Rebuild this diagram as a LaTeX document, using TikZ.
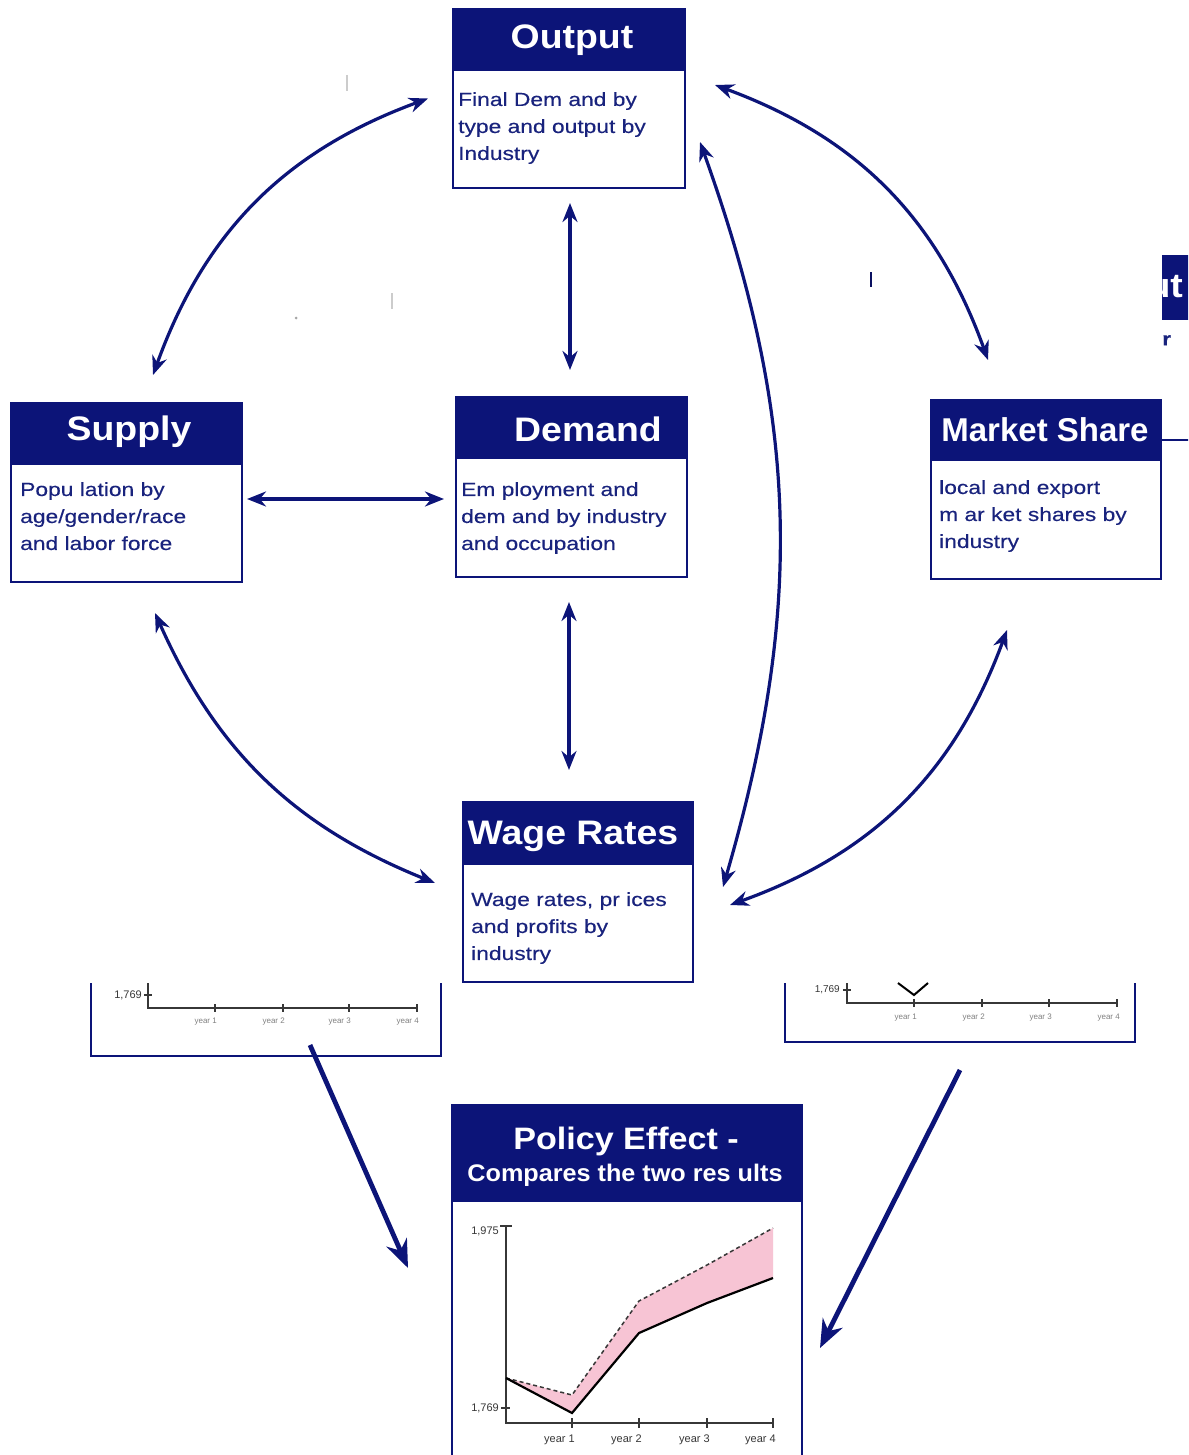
\documentclass[tikz,border=0pt]{standalone}
\usepackage{fontspec}
\setmainfont{Liberation Sans}
\newfontfamily\bodyf[FakeStretch=1.2, FakeBold=0.3]{Liberation Sans}
\newfontfamily\titlef[FakeStretch=1.1]{Liberation Sans}
\newfontfamily\subtitlef[FakeStretch=1.05]{Liberation Sans}
\usetikzlibrary{arrows.meta,calc}
\definecolor{navy}{RGB}{12,20,120}
\definecolor{txtnavy}{RGB}{25,35,125}
\definecolor{pinkfill}{RGB}{247,196,212}
\definecolor{axisgray}{RGB}{55,55,55}
\begin{document}
\begin{tikzpicture}[x=1pt,y=-1pt,
  box/.style={draw=navy, line width=2.2pt, fill=white, inner sep=0pt, outer sep=0pt, anchor=north west},
  hdr/.style={fill=navy, inner sep=0pt, outer sep=0pt, anchor=north west},
  ttl/.style={text=white, font=\titlef\fontsize{34}{40}\selectfont\bfseries, inner sep=0pt},
  body/.style={text=txtnavy, font=\bodyf\fontsize{19}{27}\selectfont, inner sep=0pt, anchor=north west, align=left},
  link/.style={draw=navy, line width=3.2pt, {Stealth[length=19pt,width=15pt]}-{Stealth[length=19pt,width=15pt]}},
  feed/.style={draw=navy, line width=4.8pt, -{Stealth[length=28pt,width=22pt]}},
  ax/.style={draw=axisgray, line width=1.4pt},
  lbl/.style={text=axisgray, font=\fontsize{11}{12}\selectfont, inner sep=0pt},
  faintlbl/.style={text=gray, font=\fontsize{8}{9}\selectfont, inner sep=0pt},
  frame/.style={draw=navy, line width=2.2pt},
  invis/.style={inner sep=0pt, outer sep=0pt, anchor=north west}
]
\useasboundingbox (0,0) rectangle (1188,1455);
\clip (0,0) rectangle (1188,1455);

% stray marks
\draw[gray!40, line width=1.5pt] (347,75) -- (347,91);
\draw[gray!40, line width=1.5pt] (392,293) -- (392,309);
\fill[gray!70] (296,318) circle (1.5);
\draw[navy!80!black, line width=2.5pt] (871,272) -- (871,287);

% partial box at right edge
\begin{scope}
  \clip (1162,200) rectangle (1188,460);
  \node[hdr, minimum width=60, minimum height=65] (rph) at (1162,255) {};
  \node[ttl, anchor=east] (rpt) at (1183,287) {ut};
  \node[body, font=\bodyf\fontsize{19}{27}\selectfont\bfseries] (rpb) at (1162,335) {r};
\end{scope}
\node[invis, minimum width=30, minimum height=1] (rpbot) at (1161,440) {};
\draw[frame] (rpbot.north west) -- (rpbot.north east);

% Output
\node[box, minimum width=232, minimum height=179] (out) at (453,9) {};
\node[hdr, minimum width=232, minimum height=62] (outh) at (out.north west) {};
\node[ttl] (outt) at (572,40) {Output};
\node[body] (outb) at (458,92) {Final Dem and by\\type and output by\\Industry};

% Supply
\node[box, minimum width=231, minimum height=179] (sup) at (11,403) {};
\node[hdr, minimum width=231, minimum height=62] (suph) at (sup.north west) {};
\node[ttl] (supt) at (129,432) {Supply};
\node[body] (supb) at (20,482) {Popu lation by\\age/gender/race\\and labor force};

% Demand
\node[box, minimum width=231, minimum height=180] (dem) at (456,397) {};
\node[hdr, minimum width=231, minimum height=62] (demh) at (dem.north west) {};
\node[ttl] (demt) at (588,429) {Demand};
\node[body] (demb) at (461,482) {Em ployment and\\dem and by industry\\and occupation};

% Market Share
\node[box, minimum width=230, minimum height=179] (mkt) at (931,400) {};
\node[hdr, minimum width=230, minimum height=61] (mkth) at (mkt.north west) {};
\node[ttl, font=\fontsize{33}{38}\selectfont\bfseries] (mktt) at (1045,430) {Market Share};
\node[body] (mktb) at (939,480) {local and export\\m ar ket shares by\\industry};

% Wage Rates
\node[box, minimum width=230, minimum height=180] (wag) at (463,802) {};
\node[hdr, minimum width=230, minimum height=63] (wagh) at (wag.north west) {};
\node[ttl] (wagt) at (573,836) {Wage Rates};
\node[body] (wagb) at (471,892) {Wage rates, pr ices\\and profits by\\industry};

% partial chart, left
\node[invis, minimum width=350, minimum height=73] (lchart) at (91,983) {};
\draw[frame] (lchart.north west) -- (lchart.south west) -- (lchart.south east) -- (lchart.north east);
\draw[ax] (148,983) -- (148,1008) -- (417,1008);
\foreach \t in {215,283,349,417} \draw[ax] (\t,1004) -- (\t,1012);
\draw[ax] (144,995) -- (152,995);
\node[lbl, anchor=east] (ll1) at (142,995) {1,769};
\node[faintlbl, anchor=east] (ly1) at (217,1022) {year 1};
\node[faintlbl, anchor=east] (ly2) at (285,1022) {year 2};
\node[faintlbl, anchor=east] (ly3) at (351,1022) {year 3};
\node[faintlbl, anchor=east] (ly4) at (419,1022) {year 4};

% partial chart, right
\node[invis, minimum width=350, minimum height=59] (rchart) at (785,983) {};
\draw[frame] (rchart.north west) -- (rchart.south west) -- (rchart.south east) -- (rchart.north east);
\draw[ax] (847,983) -- (847,1003) -- (1117,1003);
\foreach \t in {914,982,1049,1117} \draw[ax] (\t,999) -- (\t,1007);
\draw[ax] (843,990) -- (851,990);
\draw[black, line width=2pt] (898,983) -- (914,995) -- (928,983);
\node[lbl, font=\fontsize{10}{11}\selectfont, anchor=east] (rl1) at (840,990) {1,769};
\node[faintlbl, anchor=east] (ry1) at (917,1018) {year 1};
\node[faintlbl, anchor=east] (ry2) at (985,1018) {year 2};
\node[faintlbl, anchor=east] (ry3) at (1052,1018) {year 3};
\node[faintlbl, anchor=east] (ry4) at (1120,1018) {year 4};

% Policy Effect
\node[box, minimum width=350, minimum height=360] (pol) at (452,1105) {};
\node[hdr, minimum width=350, minimum height=97] (polh) at (pol.north west) {};
\node[ttl, font=\titlef\fontsize{31}{36}\selectfont\bfseries] (polt) at (626,1141) {Policy Effect -};
\node[ttl, font=\subtitlef\fontsize{24}{28}\selectfont\bfseries] (pols) at (625,1175) {Compares the two res ults};
\fill[pinkfill] (506,1378) -- (572,1395) -- (639,1301) -- (707,1265) -- (773,1228)
   -- (773,1278) -- (707,1303) -- (639,1333) -- (572,1413) -- cycle;
\draw[ax] (500,1226) -- (512,1226);
\draw[ax] (506,1226) -- (506,1423) -- (773,1423);
\foreach \t in {572,639,707,773} \draw[ax] (\t,1418) -- (\t,1428);
\draw[ax] (501,1408) -- (510,1408);
\node[lbl, anchor=east] (pl1) at (499,1231) {1,975};
\node[lbl, anchor=east] (pl2) at (499,1408) {1,769};
\node[lbl, anchor=east] (py1) at (575,1440) {year 1};
\node[lbl, anchor=east] (py2) at (642,1440) {year 2};
\node[lbl, anchor=east] (py3) at (710,1440) {year 3};
\node[lbl, anchor=east] (py4) at (776,1440) {year 4};
\draw[axisgray, line width=1.5pt, dash pattern=on 4pt off 3pt] (506,1378) -- (572,1395) -- (639,1301) -- (707,1265) -- (773,1228);
\draw[black, line width=2.2pt] (506,1378) -- (572,1413) -- (639,1333) -- (707,1303) -- (773,1278);

% connectors
\draw[link] ($(out.west)+(-25,0)$) to[bend right=25] ($(sup.north)+(26.5,-28)$);
\draw[link] ($(out.east)+(30,-13.5)$) to[bend left=25] ($(mkt.north)+(-58,-40)$);
\draw[link] ($(out.south)+(1,15)$) -- ($(dem.north)+(-1.5,-27)$);
\draw[link] ($(out.east)+(15,43.5)$) to[bend left=18] ($(wag.east)+(30,-5)$);
\draw[link] ($(sup.east)+(5,6.5)$) -- ($(dem.west)+(-12,12)$);
\draw[link] ($(dem.south)+(-2.5,25)$) -- ($(wag.north)+(-9,-32)$);
\draw[link] ($(sup.south)+(28.5,31)$) to[bend right=22] ($(wag.west)+(-28,-9)$);
\draw[link] ($(mkt.south)+(-39,51)$) to[bend left=25] ($(wag.east)+(37,13)$);
\draw[feed] ($(lchart.south)+(44,-11)$) -- ($(pol.west)+(-44,-17)$);
\draw[feed] ($(rchart.south)+(0,28)$) -- ($(pol.east)+(18,63)$);
\end{tikzpicture}
\end{document}
